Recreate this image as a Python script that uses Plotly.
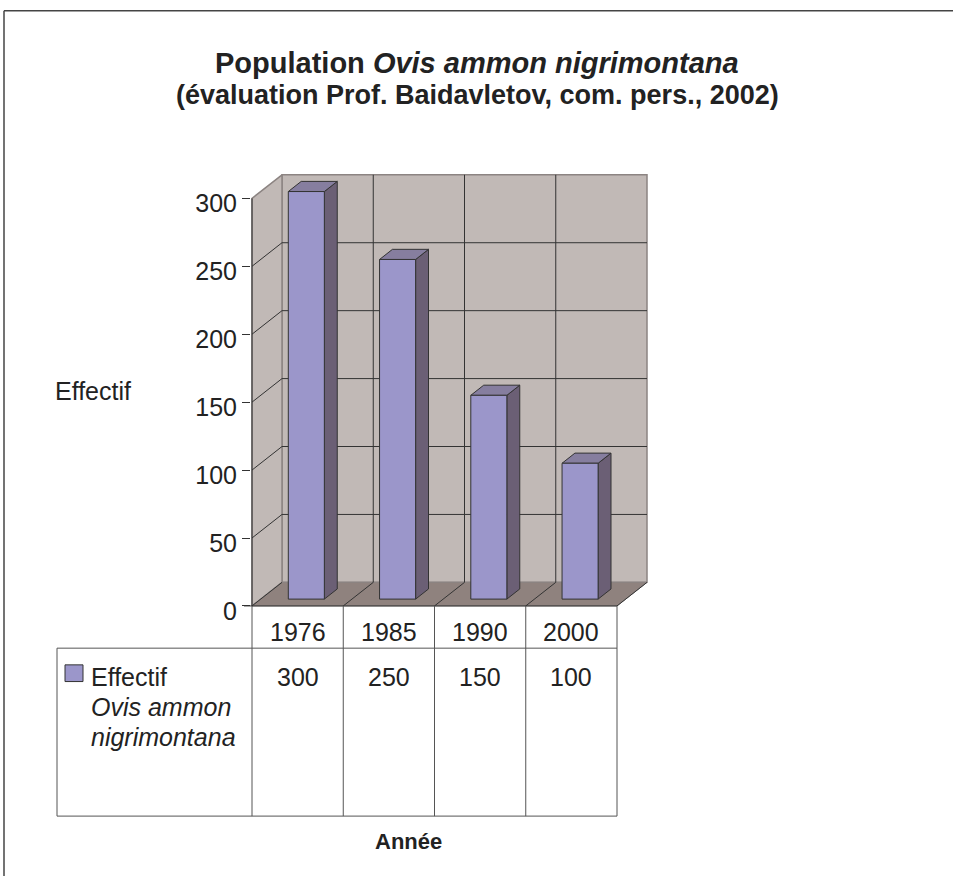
import plotly.graph_objects as go

# ---------------- data ----------------
categories = ["1976", "1985", "1990", "2000"]
values = [300, 250, 150, 100]
y_ticks = [0, 50, 100, 150, 200, 250, 300]
series_name = "Effectif"
series_sub = ["Ovis ammon", "nigrimontana"]
title_line1 = "<b>Population <i>Ovis ammon nigrimontana</i></b>"
title_line2 = "<b>(évaluation Prof. Baidavletov, com. pers., 2002)</b>"
y_title = "Effectif"
x_title = "Année"

# ---------------- geometry / style ----------------
W, H = 953, 892
PX_CAT = 91.25            # pixels per category
PX_VAL = 415.0 / 300.0    # pixels per value unit
X0_PX, Y0_PX = 252, 617   # pixel position of (0, 0) on front plane
DX = 30 / PX_CAT          # depth offset in category units
DY = 24 / PX_VAL          # depth offset in value units
WALL_TOP = max(y_ticks)
N = len(categories)

WALL = "#C1B9B6"
FLOOR = "#8F827E"
BAR_FRONT = "#9B96CA"
BAR_SIDE = "#6B5F75"
BAR_TOP = "#867E9F"
EDGE = "#333333"
WALL_EDGE = "#8C8482"
FONT = "Liberation Sans, Arial, sans-serif"
TXT = "#222222"

# axis layout (domains in pixels)
xd_l, xd_r = 251, 660
yd_t, yd_b = 165, 620
x_range = [(xd_l - X0_PX) / PX_CAT, (xd_r - X0_PX) / PX_CAT]
y_range = [(Y0_PX - yd_b) / PX_VAL, (Y0_PX - yd_t) / PX_VAL]


def px(xp):
    return xp / W


def py(yp):
    return 1 - yp / H


fig = go.Figure()


def poly(xs, ys, fill, line=EDGE, width=1):
    fig.add_trace(go.Scatter(x=xs + [xs[0]], y=ys + [ys[0]], mode="lines",
                             fill="toself", fillcolor=fill,
                             line=dict(color=line, width=width),
                             hoverinfo="skip", showlegend=False))


def lines(segs, color, width=1):
    xs, ys = [], []
    for (a, b) in segs:
        xs += [a[0], b[0], None]
        ys += [a[1], b[1], None]
    fig.add_trace(go.Scatter(x=xs, y=ys, mode="lines",
                             line=dict(color=color, width=width),
                             hoverinfo="skip", showlegend=False))


# back wall
poly([DX, N + DX, N + DX, DX], [DY, DY, WALL_TOP + DY, WALL_TOP + DY], WALL, WALL_EDGE, 1.5)
# left wall
poly([0, DX, DX, 0], [0, DY, WALL_TOP + DY, WALL_TOP], WALL, WALL_EDGE, 1.5)
# floor
poly([0, N, N + DX, DX], [0, 0, DY, DY], FLOOR, WALL_EDGE, 1)

# gridlines on walls
segs = []
for t in y_ticks[1:-1]:
    segs.append(((DX, t + DY), (N + DX, t + DY)))
    segs.append(((0, t), (DX, t + DY)))
for k in range(1, N):
    segs.append(((k + DX, DY), (k + DX, WALL_TOP + DY)))
lines(segs, EDGE, 1)
# floor dividers
lines([((k, 0), (k + DX, DY)) for k in range(0, N + 1)], EDGE, 1)
# front axis line
lines([((0, 0), (0, WALL_TOP))], EDGE, 1)

# bars
HW = 0.1975
D1, D2 = 0.29, 0.72
for i, v in enumerate(values):
    xl, xr = i + 0.5 - HW, i + 0.5 + HW
    o1x, o1y = D1 * DX, D1 * DY
    o2x, o2y = D2 * DX, D2 * DY
    poly([xr + o1x, xr + o2x, xr + o2x, xr + o1x],
         [o1y, o2y, v + o2y, v + o1y], BAR_SIDE)
    poly([xl + o1x, xr + o1x, xr + o2x, xl + o2x],
         [v + o1y, v + o1y, v + o2y, v + o2y], BAR_TOP)
    poly([xl + o1x, xr + o1x, xr + o1x, xl + o1x],
         [o1y, o1y, v + o1y, v + o1y], BAR_FRONT)

# ---------------- table ----------------
shapes = []
ann = []
cat_px = [X0_PX + k * PX_CAT for k in range(N + 1)]
row0_t, row0_b, row1_b = 617, 660, 831
tab_l = 57
TL = "#555555"


def hline(x0, x1, y, color=TL, w=1):
    shapes.append(dict(type="line", xref="paper", yref="paper",
                       x0=px(x0), x1=px(x1), y0=py(y), y1=py(y),
                       line=dict(color=color, width=w)))


def vline(x, y0, y1, color=TL, w=1):
    shapes.append(dict(type="line", xref="paper", yref="paper",
                       x0=px(x), x1=px(x), y0=py(y0), y1=py(y1),
                       line=dict(color=color, width=w)))


def text(x, y, s, size, xanchor="center", xref="paper"):
    ann.append(dict(x=x, y=py(y), xref=xref, yref="paper", text=s,
                    xanchor=xanchor, yanchor="middle", showarrow=False,
                    font=dict(size=size, color=TXT, family=FONT)))


hline(cat_px[0] - 8, cat_px[-1], row0_t, EDGE)
hline(tab_l, cat_px[-1], row0_b)
hline(tab_l, cat_px[-1], row1_b)
for xp in cat_px:
    vline(xp, row0_t, row1_b)
vline(tab_l, row0_b, row1_b)

for i, c in enumerate(categories):
    text(i + 0.5, 644, c, 25, xref="x")
    text(i + 0.5, 689, str(values[i]), 25, xref="x")

# legend key square
shapes.append(dict(type="rect", xref="paper", yref="paper",
                   x0=px(65), x1=px(83), y0=py(694), y1=py(677),
                   fillcolor=BAR_FRONT, line=dict(color=EDGE, width=1)))
text(px(89), 689, series_name, 25, xanchor="left")
for j, s in enumerate(series_sub):
    text(px(89), 720 + 30.5 * j, "<i>" + s + "</i>", 25, xanchor="left")

# titles
text(px(477), 64, title_line1, 29)
text(px(477), 97, title_line2, 27)
text(px(133), 398, y_title, 25, xanchor="right")
text(px(408), 857, "<b>" + x_title + "</b>", 22)

# outer frame (only top and left edges fall inside the picture)
hline(4, W, 11, "#444444", 1.5)
vline(4, 11, H, "#444444", 1.5)

fig.update_layout(
    width=W, height=H,
    margin=dict(l=0, r=0, t=0, b=0, pad=0),
    paper_bgcolor="white", plot_bgcolor="rgba(0,0,0,0)",
    xaxis=dict(domain=[px(xd_l), px(xd_r)], range=x_range, visible=False,
               showgrid=False, zeroline=False, fixedrange=True),
    yaxis=dict(domain=[py(yd_b), py(yd_t)], range=y_range, tickvals=y_ticks,
               ticks="outside", ticklen=8, tickcolor=EDGE, tickwidth=1,
               ticklabelshift=5,
               showline=False, showgrid=False, zeroline=False,
               tickfont=dict(size=25, color=TXT, family=FONT), fixedrange=True),
    shapes=shapes, annotations=ann, showlegend=False,
)

fig.write_html("out.html", config={"displayModeBar": False},
               post_script="document.documentElement.style.overflow='hidden';"
                           "document.body.style.margin='0';document.body.style.overflow='hidden';")
